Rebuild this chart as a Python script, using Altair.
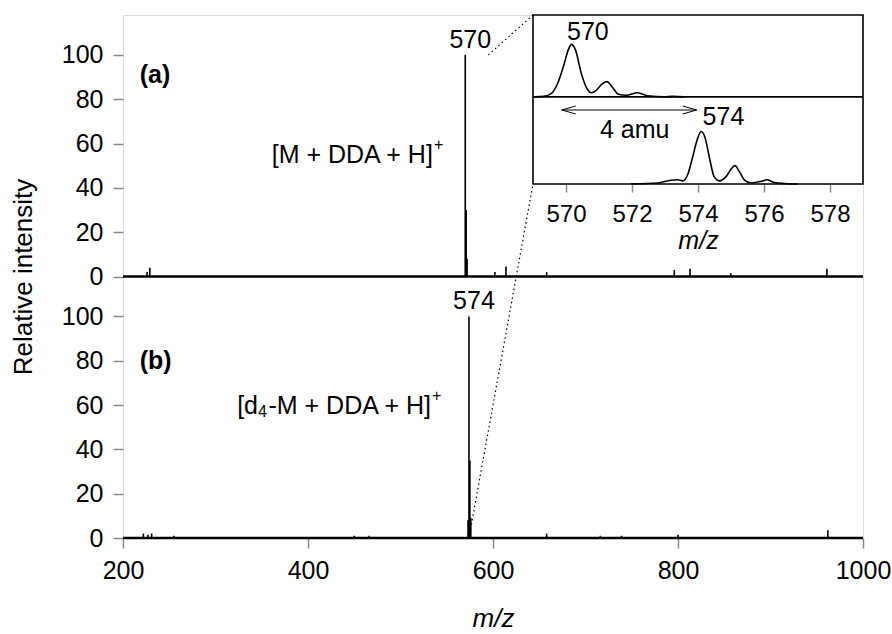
import altair as alt
import pandas as pd

FONT = "Liberation Sans"

# ---- full-range spectra (m/z, relative intensity) ----
mz_a = [226, 229, 570, 571, 572, 602, 614, 658, 796, 813, 857, 961]
int_a = [2, 4, 100, 30, 8, 2, 4.5, 2, 3, 3.5, 1.5, 3.5]

mz_b = [222, 227, 231, 255, 450, 466, 573, 574, 575, 576, 658, 716, 739, 800, 962]
int_b = [2, 1.5, 2, 1, 1, 1, 8, 100, 35, 9, 2, 1, 1, 1.5, 3.5]

# ---- zoomed profiles around the molecular ion ----
zoom_mz_a = [569.04, 569.34, 569.55, 569.75, 569.95, 570.07, 570.17, 570.30, 570.45,
             570.61, 570.76, 570.91, 571.08, 571.24, 571.41, 571.59, 571.82, 572.17,
             572.47, 572.98, 573.23, 573.59]
zoom_int_a = [0, 1, 6, 26, 64, 90, 100, 87, 48, 19, 8, 12, 24, 29, 18, 5, 3, 8, 2, 0, 1, 0]

zoom_mz_b = [571.97, 572.78, 573.18, 573.38, 573.54, 573.69, 573.84, 573.99, 574.09,
             574.21, 574.34, 574.49, 574.65, 574.85, 575.00, 575.12, 575.25, 575.40,
             575.61, 575.91, 576.09, 576.31, 576.62, 577.02]
zoom_int_b = [0, 2, 7, 8, 6, 18, 52, 87, 100, 89, 52, 14, 6, 14, 28, 35, 24, 8,
              2, 5, 8, 3, 1, 0]

x_ticks = [200, 400, 600, 800, 1000]
y_ticks = [0, 20, 40, 60, 80, 100]
zoom_x_ticks = [570, 572, 574, 576, 578]

PANEL = 118        # y units per stacked panel
ZOOM_STEP = 166    # vertical offset of the upper zoom trace
W, H = 740, 523
# inset box in plot pixels
IN_X0, IN_X1, IN_Y0, IN_Y1 = 410, 740, 0, 169

# ---------------- main stacked spectra ----------------
sticks = pd.concat([
    pd.DataFrame({"mz": mz_a, "y0": PANEL, "y1": [PANEL + v for v in int_a]}),
    pd.DataFrame({"mz": mz_b, "y0": 0, "y1": int_b}),
])
baselines = pd.DataFrame({"mz": [200, 200], "mz2": [1000, 1000], "y1": [0, PANEL]})

x_axis = alt.Axis(values=x_ticks, format="d", title="m/z", titleFontStyle="italic",
                  titleFontWeight="normal", titleFontSize=26, titlePadding=22,
                  labelFontSize=25, labelPadding=10, tickSize=10, tickWidth=1.5,
                  domain=False, grid=False, labelFlush=False, labelOverlap=False)
y_axis = alt.Axis(values=y_ticks + [PANEL + v for v in y_ticks],
                  labelExpr=f"datum.value >= {PANEL} ? datum.value - {PANEL} : datum.value",
                  title="Relative intensity", titleFontWeight="normal", titleFontSize=26,
                  titlePadding=25, labelFontSize=25, labelPadding=10, tickSize=10,
                  tickWidth=1.5, domain=False, grid=False, labelOverlap=False)

X = alt.X("mz:Q", scale=alt.Scale(domain=[200, 1000]), axis=x_axis)
Y = alt.Y("y1:Q", scale=alt.Scale(domain=[0, 2 * PANEL]), axis=y_axis)

base_layer = alt.Chart(baselines).mark_rule(color="black", strokeWidth=2.5).encode(
    x=X, x2="mz2:Q", y=Y)
stick_layer = alt.Chart(sticks).mark_rule(color="black", strokeWidth=1.6).encode(
    x=X, y=Y, y2="y0:Q")

peak_labels = pd.DataFrame({"mz": [570, 574], "y1": [PANEL + 100, 100], "t": ["570", "574"]})
peak_text = alt.Chart(peak_labels).mark_text(fontSize=25, baseline="bottom", dx=5, dy=-2).encode(
    x=X, y=Y, text="t:N")

panel_tags = pd.DataFrame({"mz": [218, 218], "y1": [PANEL + 91, 80], "t": ["(a)", "(b)"]})
tag_text = alt.Chart(panel_tags).mark_text(fontSize=25, fontWeight="bold", align="left",
                                           baseline="middle").encode(x=X, y=Y, text="t:N")

# ion assignments: main text right-aligned at the anchor, super/subscripts beside it
ion = pd.DataFrame({"mz": [535, 533], "y1": [PANEL + 55, 59.5]})
ion_a = alt.Chart(ion.iloc[[0]]).mark_text(fontSize=25, align="right").encode(
    x=X, y=Y, text=alt.value("[M + DDA + H]"))
ion_a_sup = alt.Chart(ion.iloc[[0]]).mark_text(fontSize=16, align="left", dx=1, dy=-10).encode(
    x=X, y=Y, text=alt.value("+"))
ion_b = alt.Chart(ion.iloc[[1]]).mark_text(fontSize=25, align="right").encode(
    x=X, y=Y, text=alt.value("-M + DDA + H]"))
ion_b_sub = alt.Chart(ion.iloc[[1]]).mark_text(fontSize=16, align="right", dx=-164, dy=6).encode(
    x=X, y=Y, text=alt.value("4"))
ion_b_pre = alt.Chart(ion.iloc[[1]]).mark_text(fontSize=25, align="right", dx=-173).encode(
    x=X, y=Y, text=alt.value("[d"))
ion_b_sup = alt.Chart(ion.iloc[[1]]).mark_text(fontSize=16, align="left", dx=1, dy=-10).encode(
    x=X, y=Y, text=alt.value("+"))

# dotted leader lines from the peaks to the inset corners
leaders = pd.DataFrame({"mz": [595, 574], "y1": [PANEL + 100, 0]})
lead_top = alt.Chart(leaders.iloc[[0]]).mark_rule(color="black", strokeWidth=1.2,
                                                  strokeDash=[1.5, 3]).encode(
    x=X, y=Y, x2=alt.value(IN_X0), y2=alt.value(IN_Y0))
lead_bot = alt.Chart(leaders.iloc[[1]]).mark_rule(color="black", strokeWidth=1.2,
                                                  strokeDash=[1.5, 3]).encode(
    x=X, y=Y, x2=alt.value(IN_X0), y2=alt.value(IN_Y1))

main = alt.layer(base_layer, stick_layer, lead_top, lead_bot, peak_text, tag_text,
                 ion_a, ion_a_sup, ion_b, ion_b_sub, ion_b_pre, ion_b_sup)

# ---------------- inset: zoomed isotope profiles ----------------
zoom = pd.concat([
    pd.DataFrame({"mz": zoom_mz_a, "y": [ZOOM_STEP + v for v in zoom_int_a], "s": "a"}),
    pd.DataFrame({"mz": zoom_mz_b, "y": zoom_int_b, "s": "b"}),
])
ZD = [569, 579]
YD = [0, 322]
in_x_axis = alt.Axis(orient="bottom", offset=IN_Y1 - H, values=zoom_x_ticks, title="m/z",
                     titleFontStyle="italic", titleFontWeight="normal", titleFontSize=25,
                     titlePadding=2, labelFontSize=24, labelPadding=10, tickSize=8,
                     tickWidth=1.5, domain=False, grid=False, labelFlush=False)
in_y_axis = alt.Axis(orient="left", offset=-(IN_X0 + 3), values=[40, 80, 120, 206, 246, 286],
                     tickSize=3, labels=False, domain=False, grid=False, title=None)
XI = alt.X("mz:Q", scale=alt.Scale(domain=ZD, range=[IN_X0, IN_X1]), axis=in_x_axis)
YI = alt.Y("y:Q", scale=alt.Scale(domain=YD, range=[IN_Y1, IN_Y0]), axis=in_y_axis)

frame = pd.DataFrame({"mz": [ZD[0]], "mz2": [ZD[1]], "y": [YD[0]], "y2": [YD[1]]})
in_frame = alt.Chart(frame).mark_rect(fill="white", stroke="black", strokeWidth=1.6).encode(
    x=XI, x2="mz2:Q", y=YI, y2="y2:Q")
divider = pd.DataFrame({"mz": [ZD[0]], "mz2": [ZD[1]], "y": [ZOOM_STEP]})
in_div = alt.Chart(divider).mark_rule(color="black", strokeWidth=1.6).encode(
    x=XI, x2="mz2:Q", y=YI)
in_lines = alt.Chart(zoom).mark_line(color="black", strokeWidth=1.6, interpolate="monotone").encode(
    x=XI, y=YI, detail="s:N")

in_labels = pd.DataFrame({"mz": [570.03, 574.14], "y": [290, 128], "t": ["570", "574"]})
in_text = alt.Chart(in_labels).mark_text(fontSize=25, align="left", baseline="middle").encode(
    x=XI, y=YI, text="t:N")
amu_label = pd.DataFrame({"mz": [572.08], "y": [103], "t": ["4 amu"]})
amu_text = alt.Chart(amu_label).mark_text(fontSize=25, align="center", baseline="middle").encode(
    x=XI, y=YI, text="t:N")

arrow = pd.DataFrame({"mz": [569.87], "mz2": [573.96], "y": [141]})
in_arrow = alt.Chart(arrow).mark_rule(color="black", strokeWidth=1).encode(
    x=XI, x2="mz2:Q", y=YI)
heads = pd.DataFrame({"mz": [569.87, 573.96], "y": [141, 141]})
head_l = alt.Chart(heads.iloc[[0]]).mark_point(shape="M 2 -0.57 L 0 0 L 2 0.57", size=196,
                                                filled=False, color="black", strokeWidth=1,
                                                opacity=1).encode(x=XI, y=YI)
head_r = alt.Chart(heads.iloc[[1]]).mark_point(shape="M -2 -0.57 L 0 0 L -2 0.57", size=196,
                                                filled=False, color="black", strokeWidth=1,
                                                opacity=1).encode(x=XI, y=YI)

inset = alt.layer(in_frame, in_div, in_lines, in_text, amu_text, in_arrow, head_l, head_r)

chart = alt.layer(main, inset).resolve_scale(x="independent", y="independent").properties(
    width=W, height=H,
    padding={"left": 123, "top": 15, "right": 29, "bottom": 96},
    autosize=alt.AutoSizeParams(type="none"),
).configure_view(stroke="black", strokeWidth=2).configure_axis(
    labelFont=FONT, titleFont=FONT, labelColor="black", titleColor="black",
    tickColor="black", domainColor="black",
).configure_text(font=FONT, color="black").configure(background="white")

chart.save("out.html", embed_options={"renderer": "svg", "actions": False})
